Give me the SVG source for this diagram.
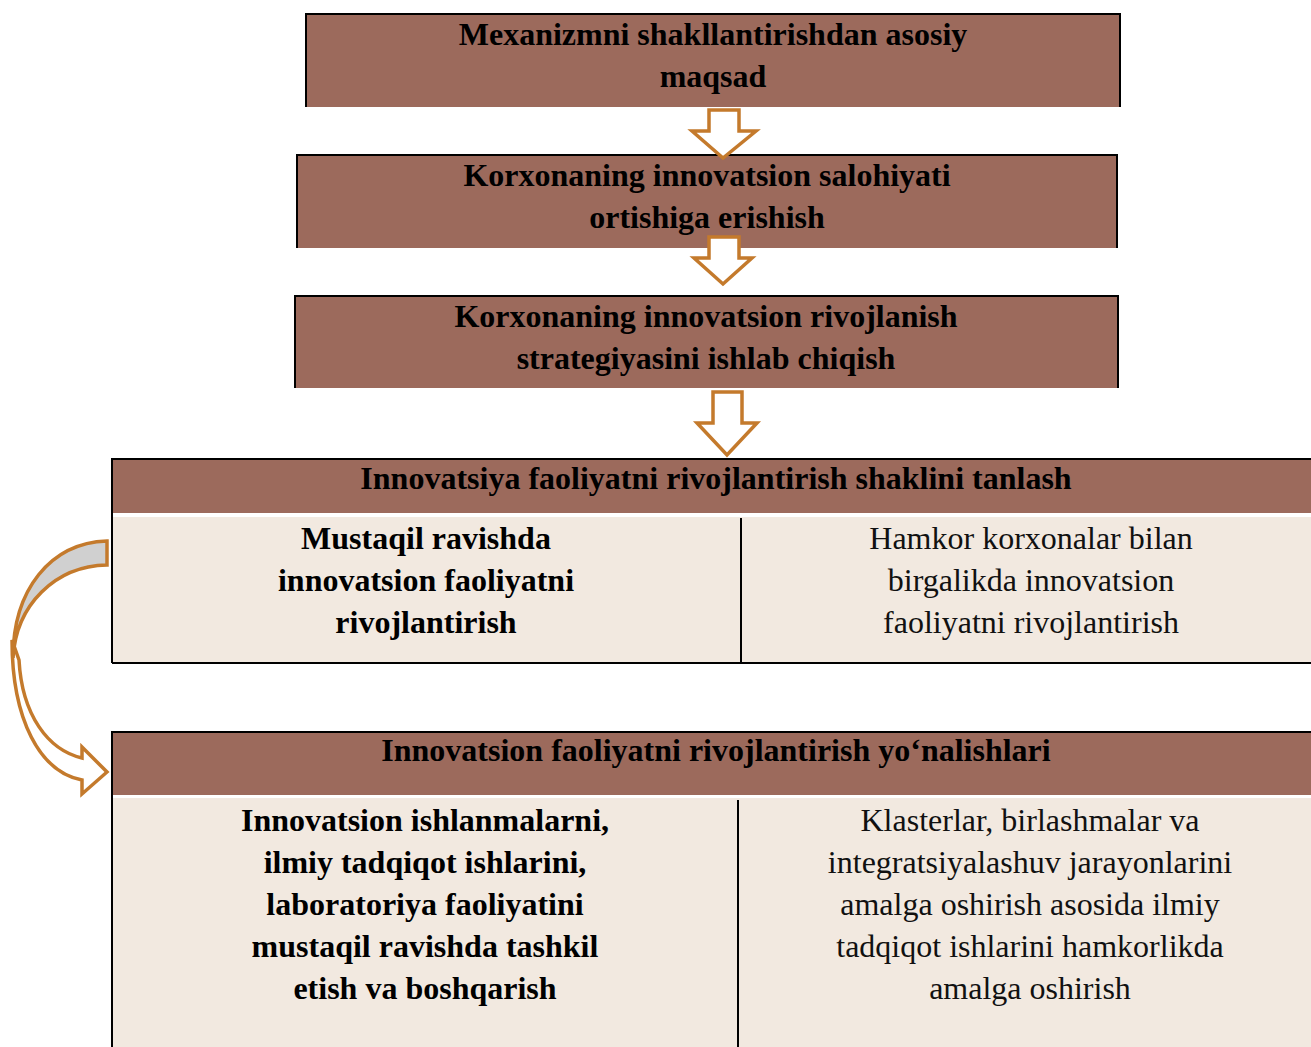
<svg xmlns="http://www.w3.org/2000/svg" width="1311" height="1047" viewBox="0 0 1311 1047">
<style>
.hdr{fill:#9c6a5c}
.body{fill:#f2e9e0}
.ln{stroke:#000;stroke-width:2;fill:none}
.b{font-family:"Liberation Serif","Times New Roman",serif;font-weight:bold;font-size:32px;fill:#000;text-anchor:middle}
.r{font-family:"Liberation Serif","Times New Roman",serif;font-size:32px;fill:#111;text-anchor:middle}
.arr{fill:#fff;stroke:#c47a2c;stroke-width:3.5;stroke-linejoin:miter}
</style>
<rect width="1311" height="1047" fill="#fff"/>
<g id="box1">
<rect class="hdr" x="306" y="14" width="814" height="93"/>
<path class="ln" d="M306,107 V14 H1120 V107"/>
<text class="b" x="713" y="45">Mexanizmni shakllantirishdan asosiy</text>
<text class="b" x="713" y="87">maqsad</text>
</g>
<g id="box2">
<rect class="hdr" x="297" y="155" width="820" height="93"/>
<path class="ln" d="M297,248 V155 H1117 V248"/>
<text class="b" x="707" y="186">Korxonaning innovatsion salohiyati</text>
<text class="b" x="707" y="228">ortishiga erishish</text>
</g>
<g id="box3">
<rect class="hdr" x="295" y="296" width="823" height="92"/>
<path class="ln" d="M295,388 V296 H1118 V388"/>
<text class="b" x="706" y="327">Korxonaning innovatsion rivojlanish</text>
<text class="b" x="706" y="369">strategiyasini ishlab chiqish</text>
</g>
<g id="table1">
<rect class="hdr" x="112" y="459" width="1199" height="54"/>
<rect class="body" x="112" y="517" width="1199" height="146"/>
<path class="ln" d="M112,663 V459 H1311"/>
<path class="ln" d="M112,663 H1311"/>
<path class="ln" d="M741,518 V663"/>
<text class="b" x="716" y="489">Innovatsiya faoliyatni rivojlantirish shaklini tanlash</text>
<text class="b" x="426" y="549">Mustaqil ravishda</text>
<text class="b" x="426" y="591">innovatsion faoliyatni</text>
<text class="b" x="426" y="633">rivojlantirish</text>
<text class="r" x="1031" y="549">Hamkor korxonalar bilan</text>
<text class="r" x="1031" y="591">birgalikda innovatsion</text>
<text class="r" x="1031" y="633">faoliyatni rivojlantirish</text>
</g>
<g id="table2">
<rect class="hdr" x="112" y="732" width="1199" height="63"/>
<rect class="body" x="112" y="798" width="1199" height="249"/>
<path class="ln" d="M112,1047 V732 H1311"/>
<path class="ln" d="M738,800 V1047"/>
<text class="b" x="716" y="761">Innovatsion faoliyatni rivojlantirish yo‘nalishlari</text>
<text class="b" x="425" y="831">Innovatsion ishlanmalarni,</text>
<text class="b" x="425" y="873">ilmiy tadqiqot ishlarini,</text>
<text class="b" x="425" y="915">laboratoriya faoliyatini</text>
<text class="b" x="425" y="957">mustaqil ravishda tashkil</text>
<text class="b" x="425" y="999">etish va boshqarish</text>
<text class="r" x="1030" y="831">Klasterlar, birlashmalar va</text>
<text class="r" x="1030" y="873">integratsiyalashuv jarayonlarini</text>
<text class="r" x="1030" y="915">amalga oshirish asosida ilmiy</text>
<text class="r" x="1030" y="957">tadqiqot ishlarini hamkorlikda</text>
<text class="r" x="1030" y="999">amalga oshirish</text>
</g>
<g id="connectors">
<path class="arr" d="M709,110 H739 V131 H756 L723,158 L692,131 H709 Z"/>
<path class="arr" d="M709,237 H739 V258 H752 L723,284 L694,258 H709 Z"/>
<path class="arr" d="M713,392 H742 V423 H757 L727,455 L697,423 H713 Z"/>
<path class="arr" d="M12,640 C12,720 40,772 82,780 V794 L107,772 L82,747 V758 C48,750 22,715 19,660 Z"/>
<path class="arr" style="fill:#d0d0d0" d="M107,541 C50,543 13,590 13,658 C16,605 55,566 107,565 Z"/>
</g>
</svg>
